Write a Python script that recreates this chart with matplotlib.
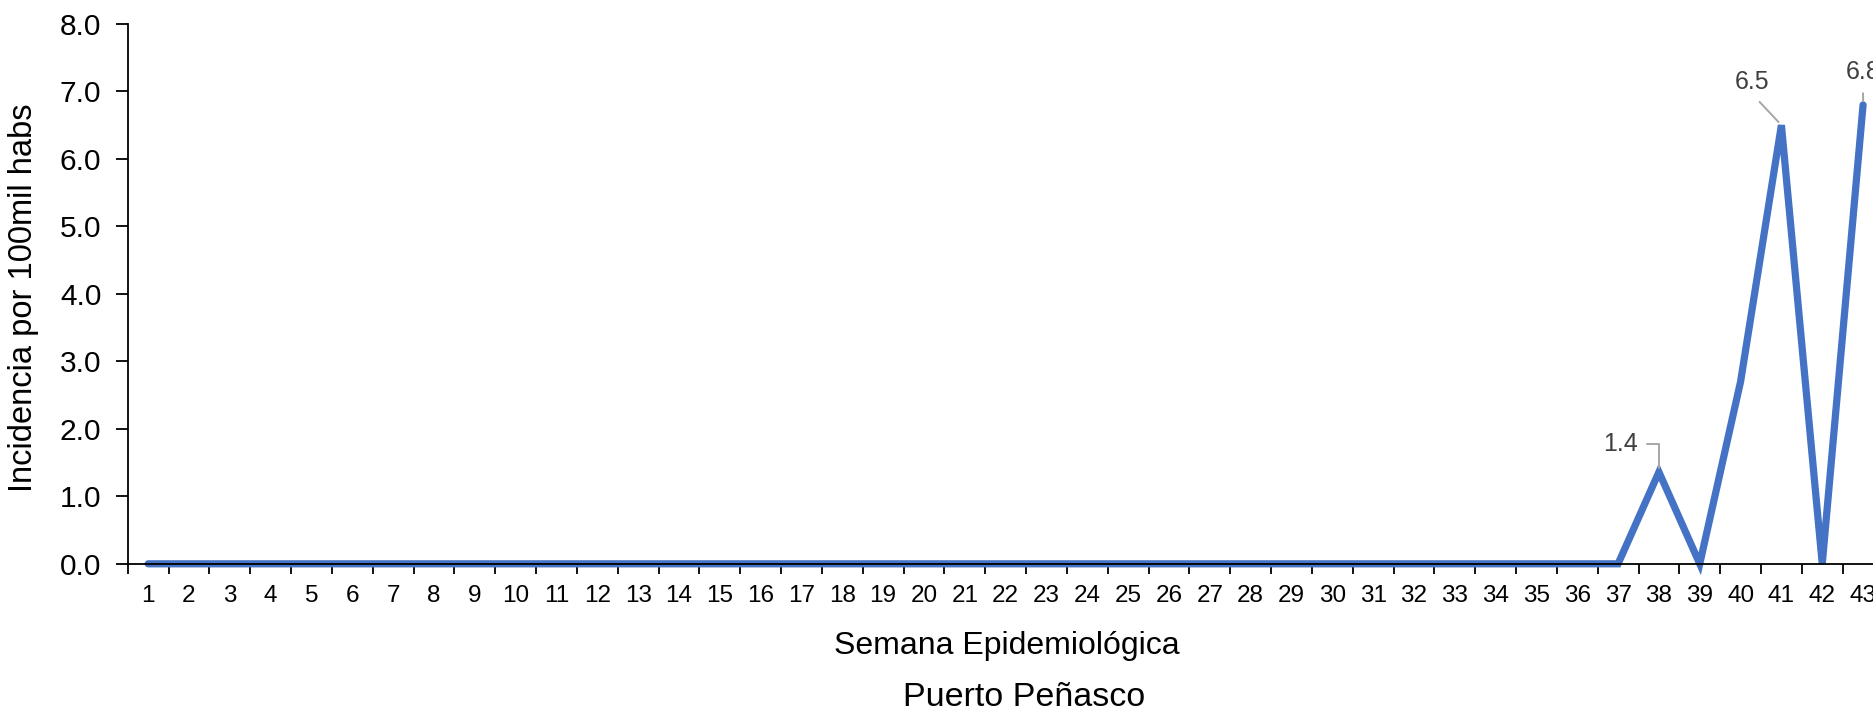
import matplotlib
matplotlib.use("Agg")
import matplotlib.pyplot as plt

plt.rcParams['font.family'] = ['Liberation Sans', 'DejaVu Sans']

# weekly incidence per 100k inhabitants
semanas = list(range(1, 44))
incidencia = [0.0] * 37 + [1.36, 0.0, 2.7, 6.5, 0.0, 6.8]

# points that carry a data label, with label offset in points
etiquetas = {38: (-28, 20), 41: (-21, 31), 43: (0, 24)}

fig = plt.figure(figsize=(18.73, 7.22), dpi=100)
ax = fig.add_axes([0.0682, 0.2191, 0.9374, 0.7478])

ax.plot(semanas, incidencia, color='#4472C4', linewidth=5.2,
        solid_joinstyle='miter', solid_capstyle='round', clip_on=False)

ax.set_xlim(0.5, 43.5)
ax.set_ylim(0, 8)
ax.set_yticks([0, 1, 2, 3, 4, 5, 6, 7, 8])
ax.set_yticklabels(['%.1f' % v for v in range(9)])

# category labels at integers, tick marks between categories
ax.set_xticks(semanas)
ax.set_xticklabels([str(s) for s in semanas])
ax.set_xticks([s + 0.5 for s in [0] + semanas], minor=True)
ax.tick_params(axis='x', which='major', length=0, pad=15, labelsize=17.5)
ax.tick_params(axis='x', which='minor', length=7, width=1.3, direction='out')
ax.tick_params(axis='y', length=9, width=1.3, pad=10, labelsize=21.5)

for s in ['top', 'right']:
    ax.spines[s].set_visible(False)
for s in ['left', 'bottom']:
    ax.spines[s].set_linewidth(1.3)

for sem, off in etiquetas.items():
    val = incidencia[sem - 1]
    if sem == 38:
        cs = 'angle,angleA=0,angleB=90,rad=0'
        rp = (1, 0.5)
    else:
        cs = 'arc3'
        rp = (0.5, 0)
    ax.annotate('%.1f' % val, xy=(sem, val), xytext=off,
                textcoords='offset points', ha='center', va='center',
                fontsize=18, color='#404040', annotation_clip=False,
                arrowprops=dict(arrowstyle='-', color='#A6A6A6', lw=1.4,
                                connectionstyle=cs, relpos=rp,
                                shrinkA=5, shrinkB=3))

fig.text(24 / 1873, 1 - 298 / 722, 'Incidencia por 100mil habs',
         rotation=90, ha='center', va='center', fontsize=23.5)
fig.text(1007 / 1873, 1 - 646 / 722, 'Semana Epidemiológica',
         ha='center', va='center', fontsize=23)
fig.text(1024 / 1873, 1 - 698 / 722, 'Puerto Peñasco',
         ha='center', va='center', fontsize=24.5)

fig.savefig('out.png', dpi=100)
